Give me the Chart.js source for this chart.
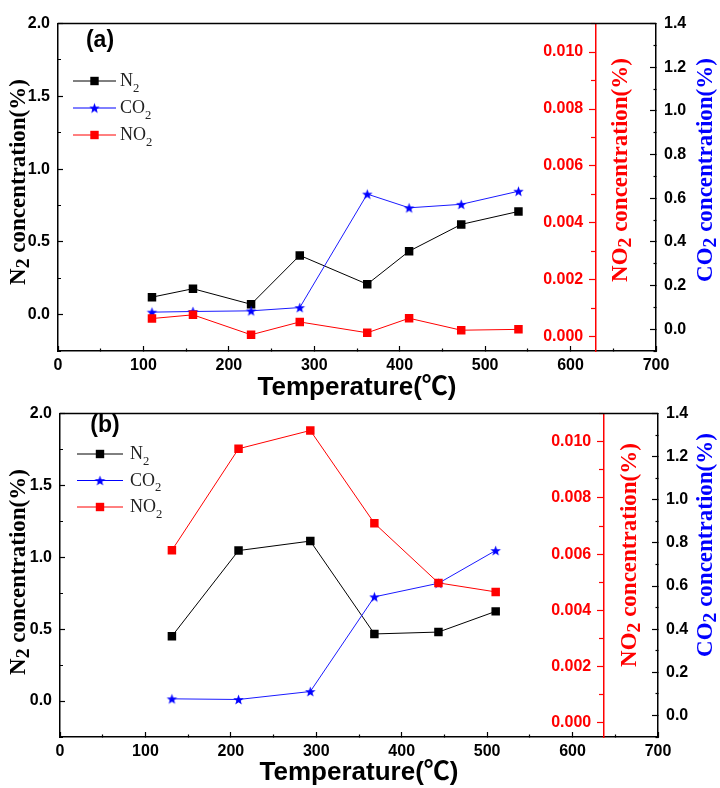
<!DOCTYPE html>
<html><head><meta charset="utf-8">
<script src="https://cdn.jsdelivr.net/npm/chart.js@4.4.1/dist/chart.umd.min.js"></script>
<style>
html,body{margin:0;padding:0;background:#fff;}
#wrap{position:relative;width:720px;height:788px;background:#fff;}
canvas{position:absolute;left:0;}
</style></head><body>
<div id="wrap">
<canvas id="ca" width="720" height="402" style="top:0"></canvas>
<canvas id="cb" width="720" height="398" style="top:390px"></canvas>
</div>
<script>
// ---------- data ----------
const tempsA = [110, 158, 226, 283, 362, 411, 472, 539];
const n2A    = [0.12, 0.178, 0.071, 0.407, 0.209, 0.436, 0.62, 0.709];
const co2A   = [0.078, 0.081, 0.084, 0.099, 0.619, 0.556, 0.572, 0.632];
const no2A   = [0.00064, 0.00077, 0.00007, 0.00052, 0.00014, 0.00065, 0.00023, 0.00026];

const tempsB = [131, 209, 293, 368, 443, 510];
const n2B    = [0.451, 1.047, 1.113, 0.467, 0.48, 0.624];
const co2B   = [0.077, 0.074, 0.111, 0.55, 0.613, 0.765];
const no2B   = [0.00614, 0.00975, 0.0104, 0.0071, 0.00498, 0.00466];

const seriesNames = ['N', 'CO', 'NO'];
const xTickLabels = [0, 100, 200, 300, 400, 500, 600, 700];
const n2TickLabels = ['0.0', '0.5', '1.0', '1.5', '2.0'];
const co2TickLabels = ['0.0', '0.2', '0.4', '0.6', '0.8', '1.0', '1.2', '1.4'];
const no2TickLabels = ['0.000', '0.002', '0.004', '0.006', '0.008', '0.010'];

// ---------- helpers ----------
const TICKF = "'Liberation Sans', Arial, sans-serif";
const SERIF = "'Liberation Serif', 'Times New Roman', serif";
const TITLEF = "'Liberation Sans', Arial, 'Noto Sans CJK SC', sans-serif";

function isMult(v, step) { const r = v / step; return Math.abs(r - Math.round(r)) < 1e-6; }

function makeStar(r, color) {
  const c = document.createElement('canvas');
  const s = Math.ceil(r * 2 + 2);
  c.width = s; c.height = s;
  const g = c.getContext('2d');
  g.fillStyle = color;
  g.beginPath();
  const cx = s / 2, cy = s / 2 + r * 0.1;
  for (let i = 0; i < 10; i++) {
    const rad = i % 2 ? r * 0.42 : r;
    const a = -Math.PI / 2 + i * Math.PI / 5;
    g.lineTo(cx + rad * Math.cos(a), cy + rad * Math.sin(a));
  }
  g.closePath(); g.fill();
  return c;
}
const starImg = makeStar(5.5, '#0000ff');

function segWidth(ctx, segs, size, fam, weight, subScale) {
  let w = 0;
  for (const s of segs) {
    ctx.font = `${weight} ${s.sub ? size * subScale : size}px ${fam}`;
    w += ctx.measureText(s.t).width;
  }
  return w;
}
function drawRich(ctx, segs, x, y, rot, size, fam, weight, color, align, subScale, subDrop) {
  ctx.save();
  ctx.translate(x, y);
  ctx.rotate(rot);
  ctx.fillStyle = color;
  ctx.textBaseline = 'alphabetic';
  ctx.textAlign = 'left';
  const w = segWidth(ctx, segs, size, fam, weight, subScale);
  let cx = align === 'center' ? -w / 2 : 0;
  const base = size * 0.35;
  for (const s of segs) {
    const sz = s.sub ? size * subScale : size;
    ctx.font = `${weight} ${sz}px ${fam}`;
    ctx.fillText(s.t, cx, base + (s.sub ? size * subDrop : 0));
    cx += ctx.measureText(s.t).width;
  }
  ctx.restore();
}

function makePanel(canvasId, p) {
  const area = p.area;
  const canvasH = document.getElementById(canvasId).height;
  const tickFont = {family: TICKF, size: 16, weight: 'bold'};

  const decor = {
    id: 'decor' + canvasId,
    afterDraw(chart) {
      const ctx = chart.ctx;
      const ca = chart.chartArea;
      ctx.save();
      ctx.strokeStyle = '#000';
      ctx.lineWidth = 1.5;
      ctx.beginPath();
      ctx.moveTo(ca.left, ca.top);
      ctx.lineTo(ca.right, ca.top);
      ctx.stroke();
      ctx.restore();

      ctx.save();
      ctx.font = `bold 23px ${TICKF}`;
      ctx.fillStyle = '#000';
      ctx.textAlign = 'center';
      ctx.textBaseline = 'middle';
      ctx.fillText(p.panelLabel, p.panelLabelPos[0], p.panelLabelPos[1]);
      ctx.restore();

      drawRich(ctx, [{t: 'Temperature(℃)'}], p.xTitle[0], p.xTitle[1], 0, 26, TITLEF, 'bold', '#000', 'center', 1, 0);
      drawRich(ctx, [{t: 'N'}, {t: '2', sub: true}, {t: ' concentration(%)'}], p.yTitle[0], p.yTitle[1], -Math.PI / 2, 23, SERIF, 'bold', '#000', 'center', 0.85, 0.15);
      drawRich(ctx, [{t: 'NO'}, {t: '2', sub: true}, {t: ' concentration(%)'}], p.redTitle[0], p.redTitle[1], -Math.PI / 2, 23, SERIF, 'bold', '#ff0000', 'center', 0.85, 0.15);
      drawRich(ctx, [{t: 'CO'}, {t: '2', sub: true}, {t: ' concentration(%)'}], p.blueTitle[0], p.blueTitle[1], -Math.PI / 2, 23, SERIF, 'bold', '#0000ff', 'center', 0.85, 0.15);

      const L = p.legend;
      const cols = ['#000', '#0000ff', '#ff0000'];
      for (let i = 0; i < 3; i++) {
        const yy = L.y + i * L.dy;
        ctx.save();
        ctx.strokeStyle = cols[i];
        ctx.lineWidth = 1;
        ctx.beginPath();
        ctx.moveTo(L.x0, yy); ctx.lineTo(L.x1, yy);
        ctx.stroke();
        const mx = (L.x0 + L.x1) / 2;
        if (i === 1) {
          ctx.drawImage(starImg, mx - starImg.width / 2, yy - starImg.height / 2);
        } else {
          ctx.fillStyle = cols[i];
          ctx.fillRect(mx - 4.2, yy - 4.2, 8.4, 8.4);
        }
        ctx.restore();
        drawRich(ctx, [{t: seriesNames[i]}, {t: '2', sub: true}], L.tx, yy - 1, 0, 18, SERIF, 'normal', '#222', 'left', 0.7, 0.3);
      }
    }
  };

  const pts = (xs, ys) => xs.map((t, i) => ({x: t, y: ys[i]}));

  return new Chart(document.getElementById(canvasId), {
    type: 'line',
    data: {
      datasets: [
        {label: 'N2', data: pts(p.temps, p.n2), yAxisID: 'y', borderColor: '#000', backgroundColor: '#000',
         borderWidth: 1, pointStyle: 'rect', pointRadius: 6, pointBorderWidth: 0, tension: 0, order: 2},
        {label: 'CO2', data: pts(p.temps, p.co2), yAxisID: 'yCO2', borderColor: '#1a1aff', backgroundColor: '#0000ff',
         borderWidth: 1, pointStyle: starImg, pointRadius: 6, pointBorderWidth: 0, tension: 0, order: 1},
        {label: 'NO2', data: pts(p.temps, p.no2), yAxisID: 'yNO2', borderColor: '#ff0000', backgroundColor: '#ff0000',
         borderWidth: 1, pointStyle: 'rect', pointRadius: 6, pointBorderWidth: 0, tension: 0, order: 0}
      ]
    },
    options: {
      responsive: false,
      animation: false,
      devicePixelRatio: 1,
      layout: {padding: {top: area.top, left: 0, right: 0, bottom: 0}},
      plugins: {legend: {display: false}, tooltip: {enabled: false}},
      scales: {
        x: {
          type: 'linear', axis: 'x', position: 'bottom', min: 0, max: 700,
          ticks: {stepSize: 50, autoSkip: false, maxRotation: 0, padding: 10, color: '#000', font: tickFont,
                  callback: v => xTickLabels.includes(v) ? String(v) : ''},
          grid: {drawOnChartArea: false, drawTicks: true, tickLength: -5, tickColor: '#000', tickWidth: 1.2,
                 tickBorderDash: c => (c.tick && !isMult(c.tick.value, 100)) ? [3, 20] : []},
          border: {display: true, color: '#000', width: 1.5},
          afterFit: s => { s.height = canvasH - area.bottom; }
        },
        y: {
          type: 'linear', axis: 'y', position: 'left', min: -0.25, max: 2.0,
          ticks: {stepSize: 0.25, autoSkip: false, padding: 13, color: '#000', font: tickFont,
                  callback: v => { const s = v.toFixed(1); return (isMult(v, 0.5) && n2TickLabels.includes(s)) ? s : ''; }},
          grid: {drawOnChartArea: false, drawTicks: true, tickLength: -5, tickColor: '#000', tickWidth: 1.2,
                 tickBorderDash: c => (c.tick && !isMult(c.tick.value, 0.5)) ? [0, 2, 3, 20] : []},
          border: {display: true, color: '#000', width: 1.5},
          afterFit: s => { s.width = area.left; }
        },
        yCO2: {
          type: 'linear', axis: 'y', position: 'right', min: -0.1, max: 1.4,
          ticks: {stepSize: 0.1, autoSkip: false, padding: 14, color: '#000', font: tickFont,
                  callback: v => { const s = (Math.abs(v) < 1e-9 ? 0 : v).toFixed(1); return (isMult(v, 0.2) && co2TickLabels.includes(s)) ? s : ''; }},
          grid: {drawOnChartArea: false, drawTicks: true, tickLength: -6, tickColor: '#000', tickWidth: 1.2,
                 tickBorderDash: c => (c.tick && !isMult(c.tick.value, 0.2)) ? [3, 20] : []},
          border: {display: true, color: '#000', width: 1.5},
          afterFit: s => { s.width = 720 - area.right; }
        },
        yNO2: {
          type: 'linear', axis: 'y', position: {x: p.redX}, min: -0.0005, max: 0.011,
          ticks: {stepSize: 0.001, includeBounds: false, autoSkip: false, padding: 8, color: '#ff0000', font: tickFont,
                  callback: v => { const s = (Math.abs(v) < 1e-12 ? 0 : v).toFixed(3); return (isMult(v, 0.002) && no2TickLabels.includes(s)) ? s : ''; }},
          grid: {drawOnChartArea: false, drawTicks: true, tickLength: 6, tickColor: '#ff0000', tickWidth: 1.2,
                 tickBorderDash: c => (c.tick && !isMult(c.tick.value, 0.002)) ? [4, 20] : []},
          border: {display: true, color: '#ff0000', width: 1.5},
          afterUpdate: s => {
            if (!s._shifted) {
              s._shifted = true;
              const orig = s._computeLabelItems;
              s._computeLabelItems = function (ca) {
                const items = orig.call(this, ca);
                items.forEach(it => { it.options.translation[0] -= 13; });
                return items;
              };
            }
          }
        }
      }
    },
    plugins: [decor]
  });
}

makePanel('ca', {
  area: {left: 58, right: 656, top: 13, bottom: 351},
  temps: tempsA, n2: n2A, co2: co2A, no2: no2A,
  redX: 630,
  panelLabel: '(a)', panelLabelPos: [100, 41],
  xTitle: [357, 386], yTitle: [17, 182], redTitle: [619, 170], blueTitle: [704, 170],
  legend: {x0: 73, x1: 116, tx: 120, y: 81, dy: 27}
});

makePanel('cb', {
  area: {left: 60, right: 658, top: 9, bottom: 347},
  temps: tempsB, n2: n2B, co2: co2B, no2: no2B,
  redX: 637,
  panelLabel: '(b)', panelLabelPos: [105, 36],
  xTitle: [359, 381], yTitle: [17, 182], redTitle: [628, 165], blueTitle: [704, 155],
  legend: {x0: 77, x1: 123, tx: 130, y: 64, dy: 26.5}
});
</script>
</body></html>
